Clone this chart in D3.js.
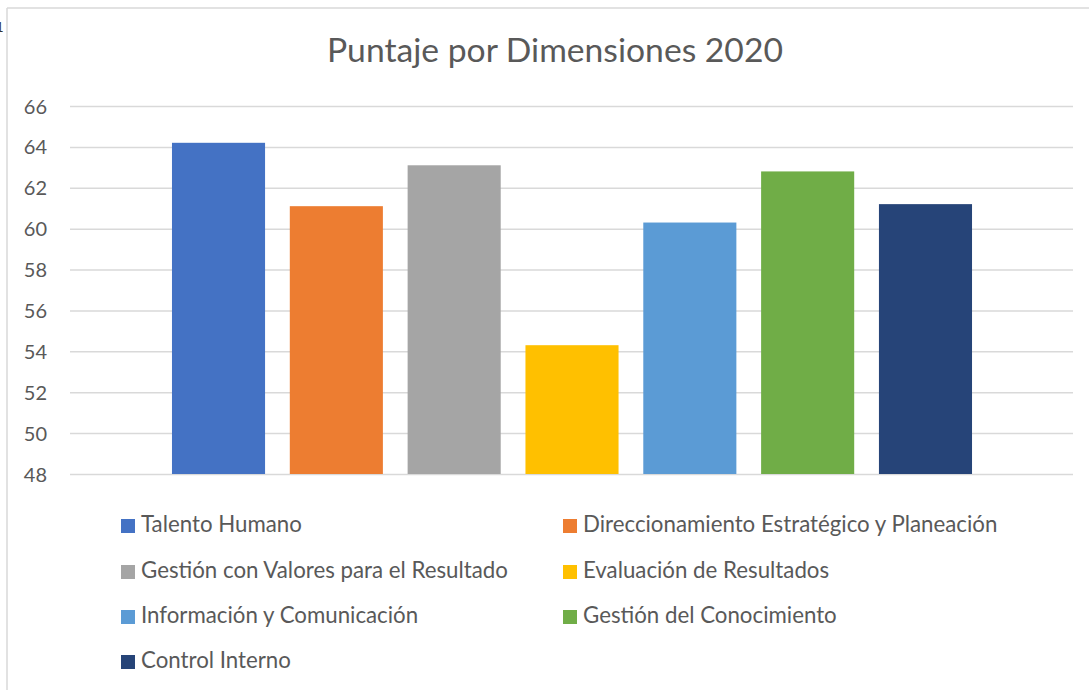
<!DOCTYPE html>
<html>
<head>
<meta charset="utf-8">
<script src="https://cdn.jsdelivr.net/npm/d3@7"></script>
<style>
  html, body { margin: 0; padding: 0; background: #fff; }
  svg { display: block; }
  text { font-family: Lato, "Noto Sans", sans-serif; fill: #595959; }
</style>
</head>
<body>
<svg id="chart" width="1089" height="690"></svg>
<script>
const title = "Puntaje por Dimensiones 2020";
const categories = [
  "Talento Humano",
  "Direccionamiento Estratégico y Planeación",
  "Gestión con Valores para el Resultado",
  "Evaluación de Resultados",
  "Información y Comunicación",
  "Gestión del Conocimiento",
  "Control Interno"
];
const values = [64.2, 61.1, 63.1, 54.3, 60.3, 62.8, 61.2];
const colors = ["#4472C4", "#ED7D31", "#A5A5A5", "#FFC000", "#5B9BD5", "#70AD47", "#264478"];
const yTicks = [48, 50, 52, 54, 56, 58, 60, 62, 64, 66];

const svg = d3.select("#chart");

// chart frame
svg.append("text").attr("x", -4).attr("y", 32).attr("font-size", 13).style("fill", "#333").text("1");
svg.append("line").attr("x1", 7).attr("x2", 1089).attr("y1", 8).attr("y2", 8)
  .attr("stroke", "#d9d9d9").attr("stroke-width", 1.5);
svg.append("line").attr("x1", 7).attr("x2", 7).attr("y1", 8).attr("y2", 690)
  .attr("stroke", "#d9d9d9").attr("stroke-width", 1.5);

const plot = { left: 70, right: 1073, top: 106, bottom: 474 };

const y = d3.scaleLinear().domain([48, 66]).range([plot.bottom, plot.top]);
const x = d3.scaleBand().domain(categories)
  .range([159.6, 984.4]).paddingInner(0.21).paddingOuter(0.105);

// gridlines
const yAxis = d3.axisLeft(y).tickValues(yTicks).tickSize(-(plot.right - plot.left)).tickPadding(23)
  .tickFormat(d3.format("d"));
const gy = svg.append("g").attr("transform", `translate(${plot.left},0)`).call(yAxis);
gy.select(".domain").remove();
gy.selectAll(".tick line").attr("stroke", "#d9d9d9").attr("stroke-width", 1.5);
gy.selectAll(".tick text").attr("font-size", 20).attr("font-family", "Lato, 'Noto Sans', sans-serif")
  .style("fill", "#595959").attr("dy", "0.35em");

// bars
svg.append("g").selectAll("rect").data(categories).join("rect")
  .attr("x", d => x(d))
  .attr("width", x.bandwidth())
  .attr("y", (d, i) => y(values[i]))
  .attr("height", (d, i) => y(48) - y(values[i]))
  .attr("fill", (d, i) => colors[i]);

// title
const t = svg.append("text").attr("x", 555).attr("y", 62).attr("text-anchor", "middle")
  .attr("font-size", 32).text(title);
const tw = t.node().getComputedTextLength();
t.attr("font-size", 32 * 456 / tw);

// legend
const colX = [121, 563];
const rowY = [532, 578, 623, 668];
const lg = svg.append("g");
const items = lg.selectAll("g").data(categories).join("g")
  .attr("transform", (d, i) => `translate(${colX[i % 2]},${rowY[Math.floor(i / 2)]})`);
items.append("rect").attr("x", 0).attr("y", -13).attr("width", 14).attr("height", 14)
  .attr("fill", (d, i) => colors[i]);
const lt = items.append("text").attr("x", 20).attr("y", 0).attr("font-size", 20).text(d => d);
const w0 = lt.nodes()[0].getComputedTextLength();
const fs = 20 * 161 / w0;
lt.attr("font-size", fs);
</script>
</body>
</html>
